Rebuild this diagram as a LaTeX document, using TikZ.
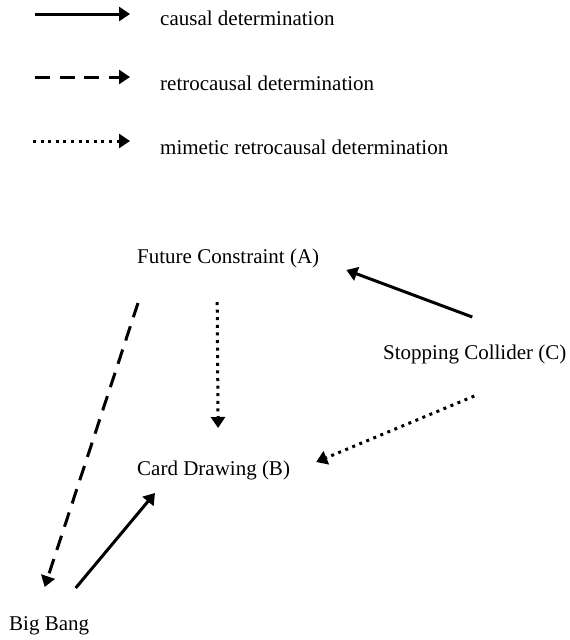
\documentclass[tikz,border=0pt]{standalone}
\usepackage{fontspec}
\setmainfont{Liberation Serif}
\usetikzlibrary{arrows.meta}

\begin{document}
\begin{tikzpicture}[x=1pt,y=-1pt]
		\tikzset{> = {Triangle[length=11pt,width=14pt]}}
		\tikzset{causal/.style = {->, line width=3pt},
			retro/.style = {->, line width=3pt, dash pattern=on 15pt off 9.5pt},
			mimetic/.style = {->, line width=3pt, dash pattern=on 3pt off 4.6pt},
			lbl/.style = {anchor=base west, inner sep=0pt, font=\fontsize{21}{25}\selectfont}}
		\useasboundingbox (0,0) rectangle (570,640);
		% legend
		\node[lbl] (L1) at (160,25) {causal determination};
		\node[lbl] (L2) at (160,90) {retrocausal determination};
		\node[lbl] (L3) at (160,154) {mimetic retrocausal determination};
		\coordinate (s1) at (35,14);
		\coordinate (e1) at (130,14);
		\coordinate (s2) at (35,77);
		\coordinate (e2) at (130,77);
		\coordinate (s3) at (33,141);
		\coordinate (e3) at (130,141);
		\draw[causal] (s1) -- (e1);
		\draw[retro] (s2) -- (e2);
		\draw[mimetic] (s3) -- (e3);
		% diagram
		\node[lbl] (A) at (137,263) {Future Constraint (A)};
		\node[lbl] (B) at (137,475) {Card Drawing (B)};
		\node[lbl] (C) at (383,359) {Stopping Collider (C)};
		\node[lbl] (BB) at (9,630) {Big Bang};
		\draw[causal] ([shift={(-2.5,-42)}]C.base) -- ([shift={(27,7)}]A.base east);
		\draw[mimetic] ([shift={(-11,39)}]A.base) -- ([shift={(4.5,-47)}]B.base);
		\draw[retro] ([shift={(1,40)}]A.base west) -- ([shift={(-4.5,-43)}]BB.base);
		\draw[causal] ([shift={(26.5,-42)}]BB.base) -- ([shift={(18,18)}]B.base west);
		\draw[mimetic] ([shift={(-0.5,37)}]C.base) -- ([shift={(26,-13)}]B.base east);
	\end{tikzpicture}
\end{document}
